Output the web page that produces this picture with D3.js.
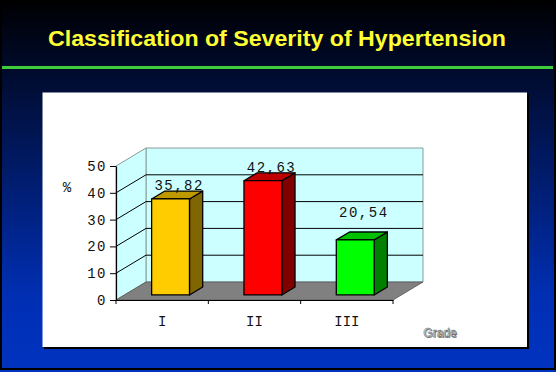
<!DOCTYPE html>
<html>
<head>
<meta charset="utf-8">
<script src="https://cdn.jsdelivr.net/npm/d3@7"></script>
<style>
body { margin: 0; background: #000; }
svg { display: block; }
</style>
</head>
<body>
<div id="chart"></div>
<script>
var grades = ["I", "II", "III"];
var percents = [35.82, 42.63, 20.54];
var yTicks = [0, 10, 20, 30, 40, 50];

var barFill = [
    {front: "#ffcc00", side: "#806600", top: "#bf9900"},
    {front: "#ff0000", side: "#800000", top: "#c00000"},
    {front: "#00ff00", side: "#008000", top: "#00c000"}
];

var width = 556, height = 372;
var mono = "'Liberation Mono', 'Courier New', monospace";

var svg = d3.select("#chart").append("svg")
    .attr("width", width)
    .attr("height", height);

// slide background
var grad = svg.append("defs").append("linearGradient")
    .attr("id", "bg")
    .attr("x1", 0).attr("y1", 0).attr("x2", 0).attr("y2", 1);
grad.append("stop").attr("offset", 0).attr("stop-color", "#000000");
grad.append("stop").attr("offset", 0.06).attr("stop-color", "#00030f");
grad.append("stop").attr("offset", 0.8).attr("stop-color", "#002fb4");
grad.append("stop").attr("offset", 1).attr("stop-color", "#0033c0");

svg.append("rect")
    .attr("width", width).attr("height", height)
    .attr("fill", "url(#bg)");
svg.append("rect")
    .attr("x", 1).attr("y", 1)
    .attr("width", width - 2).attr("height", height - 4)
    .attr("fill", "none")
    .attr("stroke", "#000")
    .attr("stroke-width", 2);

svg.append("text")
    .attr("x", 277).attr("y", 46)
    .attr("text-anchor", "middle")
    .attr("textLength", 458)
    .attr("lengthAdjust", "spacingAndGlyphs")
    .style("font-family", "'Liberation Sans', Arial, sans-serif")
    .style("font-weight", "bold")
    .style("font-size", "22px")
    .attr("fill", "#ffff33")
    .text("Classification of Severity of Hypertension");

svg.append("rect")
    .attr("x", 2).attr("y", 66)
    .attr("width", 551).attr("height", 3)
    .attr("fill", "#3ccc3c");

// white chart panel with a dark shadow edge
svg.append("rect")
    .attr("x", 44).attr("y", 94)
    .attr("width", 485).attr("height", 255)
    .attr("fill", "#000");
svg.append("rect")
    .attr("x", 42.5).attr("y", 92.5)
    .attr("width", 484.5).attr("height", 254.5)
    .attr("fill", "#fff");

// 3d plot geometry
var x0 = 116, x1 = 393;
var depth = {dx: 30, dy: -18};
var barZ = [0.28, 0.72];

var y = d3.scaleLinear()
    .domain([0, 50])
    .range([300, 166]);

var x = d3.scaleBand()
    .domain(grades)
    .range([x0, x1])
    .paddingInner(0.59)
    .paddingOuter(0.295);

function pts(arr) {
    return arr.map(function(p) { return p[0] + "," + p[1]; }).join(" ");
}

var yTop = y(50), yBot = y(0);

// back wall
svg.append("polygon")
    .attr("points", pts([
        [x0 + depth.dx, yTop + depth.dy], [x1 + depth.dx, yTop + depth.dy],
        [x1 + depth.dx, yBot + depth.dy], [x0 + depth.dx, yBot + depth.dy]]))
    .attr("fill", "#ccffff")
    .attr("stroke", "#8a9a9a")
    .attr("stroke-width", 1);

// left wall
svg.append("polygon")
    .attr("points", pts([
        [x0, yBot], [x0, yTop],
        [x0 + depth.dx, yTop + depth.dy], [x0 + depth.dx, yBot + depth.dy]]))
    .attr("fill", "#ccffff")
    .attr("stroke", "#8a9a9a")
    .attr("stroke-width", 1);

var grid = svg.append("g")
    .attr("stroke", "#000")
    .attr("stroke-width", 1);

yTicks.filter(function(t) { return t > 0 && t < 50; }).forEach(function(t) {
    grid.append("line")
        .attr("x1", x0 + depth.dx).attr("y1", y(t) + depth.dy)
        .attr("x2", x1 + depth.dx).attr("y2", y(t) + depth.dy);
    grid.append("line")
        .attr("x1", x0).attr("y1", y(t))
        .attr("x2", x0 + depth.dx).attr("y2", y(t) + depth.dy);
});

// floor
svg.append("polygon")
    .attr("points", pts([
        [x0, yBot], [x1, yBot],
        [x1 + depth.dx, yBot + depth.dy], [x0 + depth.dx, yBot + depth.dy]]))
    .attr("fill", "#808080")
    .attr("stroke", "#555")
    .attr("stroke-width", 0.8);

// y axis
var yAxis = svg.append("g")
    .attr("transform", "translate(" + x0 + ",0)")
    .call(d3.axisLeft(y).tickValues(yTicks).tickSize(6).tickSizeOuter(0).tickPadding(3));
yAxis.select(".domain").attr("stroke", "#000").attr("stroke-width", 1.2);
yAxis.selectAll(".tick line").attr("stroke", "#000");
yAxis.selectAll(".tick text")
    .attr("fill", "#111")
    .style("font-family", mono)
    .style("font-size", "14px")
    .style("letter-spacing", "1.5px");

// x axis
var xAxis = svg.append("g")
    .attr("transform", "translate(0," + yBot + ")")
    .call(d3.axisBottom(x).tickSize(0).tickPadding(16));
xAxis.select(".domain").attr("stroke", "#000").attr("stroke-width", 1.2);
xAxis.selectAll(".tick text")
    .attr("fill", "#111")
    .style("font-family", mono)
    .style("font-size", "14px");

d3.range(grades.length + 1).forEach(function(i) {
    var bx = x0 + i * x.step();
    svg.append("line")
        .attr("x1", bx).attr("y1", yBot)
        .attr("x2", bx).attr("y2", yBot + 4)
        .attr("stroke", "#000");
});

// bars
var fmt = d3.formatLocale({decimal: ",", thousands: ".", grouping: [3], currency: ["", ""]}).format(".2f");
var labelLift = {"III": 14};

var bars = svg.append("g")
    .selectAll("g")
    .data(grades)
    .enter().append("g");

bars.each(function(c, i) {
    var g = d3.select(this);
    var bw = x.bandwidth();
    var fx = x(c) + barZ[0] * depth.dx;
    var fTop = y(percents[i]) + barZ[0] * depth.dy;
    var fBot = y(0) + barZ[0] * depth.dy;
    var ddx = (barZ[1] - barZ[0]) * depth.dx;
    var ddy = (barZ[1] - barZ[0]) * depth.dy;

    g.append("polygon")
        .attr("points", pts([[fx + bw, fTop], [fx + bw + ddx, fTop + ddy],
            [fx + bw + ddx, fBot + ddy], [fx + bw, fBot]]))
        .attr("fill", barFill[i].side);
    g.append("polygon")
        .attr("points", pts([[fx, fTop], [fx + ddx, fTop + ddy],
            [fx + bw + ddx, fTop + ddy], [fx + bw, fTop]]))
        .attr("fill", barFill[i].top);
    g.append("rect")
        .attr("x", fx).attr("y", fTop)
        .attr("width", bw).attr("height", fBot - fTop)
        .attr("fill", barFill[i].front);
    g.selectAll("polygon, rect")
        .attr("stroke", "#000")
        .attr("stroke-width", 1.3)
        .attr("stroke-linejoin", "round");

    g.append("text")
        .attr("x", fx + (bw + ddx) / 2 + 2)
        .attr("y", fTop + ddy - 1 - (labelLift[c] || 0))
        .attr("text-anchor", "middle")
        .attr("fill", "#111")
        .style("font-family", mono)
        .style("font-size", "14px")
        .style("letter-spacing", "1.5px")
        .text(fmt(percents[i]));
});

svg.append("text")
    .attr("x", 67).attr("y", 192)
    .attr("text-anchor", "middle")
    .attr("fill", "#111")
    .style("font-family", mono)
    .style("font-size", "14px")
    .text("%");

// axis title with a little shadow
var gradeTitle = svg.append("g")
    .style("font-family", "'Liberation Sans', Arial, sans-serif")
    .style("font-size", "12px");
gradeTitle.append("text")
    .attr("x", 441).attr("y", 338)
    .attr("text-anchor", "middle")
    .attr("fill", "#777")
    .text("Grade");
gradeTitle.append("text")
    .attr("x", 440).attr("y", 337)
    .attr("text-anchor", "middle")
    .attr("fill", "#f4f4f4")
    .attr("stroke", "#666")
    .attr("stroke-width", 0.5)
    .text("Grade");
</script>
</body>
</html>
